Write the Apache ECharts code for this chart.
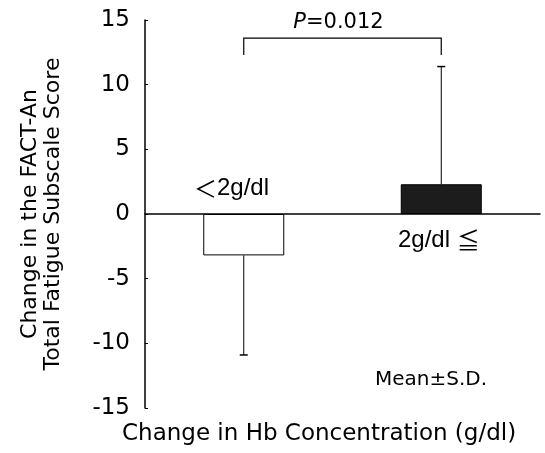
<!DOCTYPE html>
<html lang="en">
<head>
<meta charset="UTF-8">
<title>FACT-An fatigue change</title>
<script src="https://cdn.jsdelivr.net/npm/echarts@6/dist/echarts.min.js"></script>
<style>
  html, body { margin: 0; padding: 0; background: #fff; }
  #chart { width: 545px; height: 453px; }
</style>
</head>
<body>
<div id="chart"></div>
<script>
// data
var groups = ['<2g/dl', '2g/dl≦'];
var means = [-3.2, 2.3];
var sds = [7.7, 9.1];
var yTicks = [-15, -10, -5, 0, 5, 10, 15];
var bracketY = [12.3, 13.6];   // leg bottom, bar top
var pText = '=0.012';

var font = 'DejaVu Sans';
var armFont = 'Liberation Sans';
var cjk = 'Noto Sans CJK JP';
var chart = echarts.init(document.getElementById('chart'));

var option = {
  animation: false,
  textStyle: { fontFamily: font, color: '#000' },
  grid: { left: 145, right: 5, top: 20, bottom: 45 },
  xAxis: {
    type: 'category',
    data: groups,
    axisLine: { onZero: true, lineStyle: { color: '#000', width: 1.5 } },
    axisTick: { show: false },
    axisLabel: { show: false }
  },
  yAxis: {
    type: 'value',
    min: yTicks[0],
    max: yTicks[yTicks.length - 1],
    interval: 5,
    name: 'Change in the FACT-An\nTotal Fatigue Subscale Score',
    nameLocation: 'middle',
    nameGap: 80,
    nameTextStyle: { fontSize: 22, lineHeight: 23, color: '#000' },
    splitLine: { show: false },
    axisLine: { show: true, lineStyle: { color: '#000', width: 1.5 } },
    axisTick: { show: true, inside: true, length: 3, lineStyle: { color: '#000' } },
    axisLabel: { fontSize: 23, color: '#000', margin: 15 }
  },
  series: [
    {
      type: 'bar',
      barWidth: 81,
      data: means.map(function (m, i) {
        return {
          value: m,
          itemStyle: i === 0
            ? { color: '#fff', borderColor: '#000', borderWidth: 1 }
            : { color: '#1c1c1c', borderColor: '#000', borderWidth: 1 }
        };
      }),
      z: 2
    },
    {
      // one-sided S.D. whiskers
      type: 'custom',
      data: means.map(function (m, i) { return [i, m, m < 0 ? m - sds[i] : m + sds[i]]; }),
      renderItem: function (params, api) {
        var a = api.coord([api.value(0), api.value(1)]);
        var b = api.coord([api.value(0), api.value(2)]);
        var cap = 4;
        return {
          type: 'group',
          children: [
            { type: 'line', shape: { x1: a[0], y1: a[1], x2: b[0], y2: b[1] }, style: { stroke: '#000', lineWidth: 1 } },
            { type: 'line', shape: { x1: b[0] - cap, y1: b[1], x2: b[0] + cap, y2: b[1] }, style: { stroke: '#000', lineWidth: 1.5 } }
          ]
        };
      },
      z: 1
    },
    {
      // significance bracket
      type: 'custom',
      data: [[0, 1, bracketY[0], bracketY[1]]],
      renderItem: function (params, api) {
        var l0 = api.coord([api.value(0), api.value(2)]);
        var l1 = api.coord([api.value(0), api.value(3)]);
        var r1 = api.coord([api.value(1), api.value(3)]);
        var r0 = api.coord([api.value(1), api.value(2)]);
        return {
          type: 'group',
          children: [
            { type: 'polyline', shape: { points: [l0, l1, r1, r0] }, style: { stroke: '#000', lineWidth: 1.2, fill: null } },
            {
              type: 'text',
              x: (l1[0] + r1[0]) / 2 - 4, y: l1[1] - 5,
              style: {
                text: '{i|P}' + pText, align: 'center', verticalAlign: 'bottom',
                fontFamily: font, fontSize: 21, fill: '#000',
                rich: { i: { fontStyle: 'italic', fontFamily: font, fontSize: 21 } }
              }
            }
          ]
        };
      },
      z: 3
    }
  ],
  graphic: [
    { type: 'text', left: 194, top: 176, style: {
      text: '{c|＜}2g/dl', fontFamily: armFont, fontSize: 24, fill: '#000',
      rich: { c: { fontFamily: cjk, fontSize: 23 } } } },
    { type: 'text', left: 398, top: 228, style: {
      text: '2g/dl {c|≦}', fontFamily: armFont, fontSize: 24, fill: '#000',
      rich: { c: { fontFamily: cjk, fontSize: 23 } } } },
    { type: 'text', left: 375, top: 370, style: { text: 'Mean±S.D.', fontFamily: font, fontSize: 20, fill: '#000' } },
    { type: 'text', left: 122, top: 423, style: { text: 'Change in Hb Concentration (g/dl)', fontFamily: font, fontSize: 23, fill: '#000' } }
  ]
};
chart.setOption(option);
</script>
</body>
</html>
